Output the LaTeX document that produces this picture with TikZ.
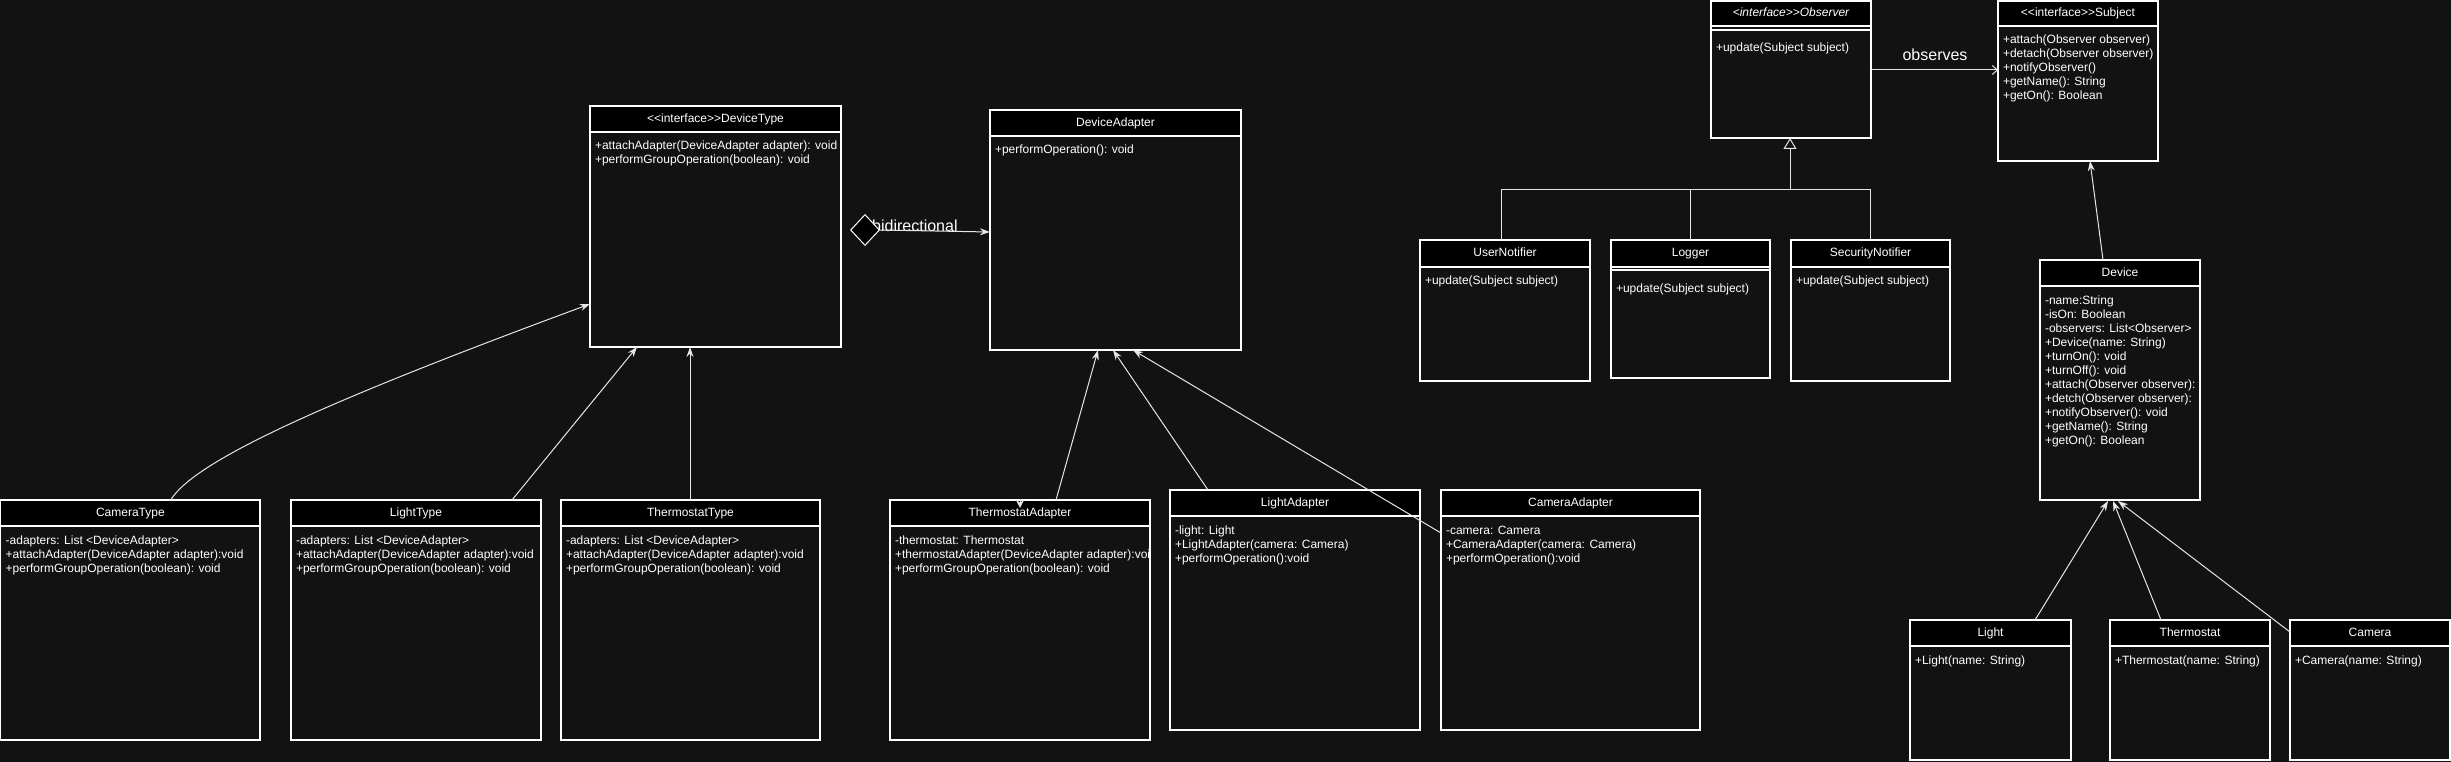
\documentclass[tikz,border=0pt]{standalone}
\usepackage{fontspec}
\setmainfont{Liberation Sans}[Ligatures=TeXOff]
\usetikzlibrary{arrows.meta,shapes.geometric,calc}
\definecolor{bg}{HTML}{121212}
\definecolor{ln}{HTML}{E6E6E6}
\tikzset{
 clsbody/.style={draw=white, fill=bg, line width=1.3pt, anchor=north west, inner sep=0pt, outer sep=0pt},
 clshead/.style={draw=white, fill=black, line width=1.3pt, anchor=north west, inner sep=0pt, outer sep=0pt,
   text=white, font=\fontsize{12}{14}\selectfont, text height=8.6pt, text depth=2.4pt},
 clstext/.style={anchor=base west, inner sep=0pt, outer sep=0pt, text=white, font=\fontsize{12}{14}\selectfont},
 conn/.style={draw=ln, line width=1pt},
 tipA/.style={-{Stealth[length=10pt,width=7pt]}},
 lbl/.style={text=white, font=\fontsize{16}{19}\selectfont, inner sep=0pt, anchor=base}
}
\newcommand\umlcls[7]{%
 \node[clsbody, minimum width=#4pt, minimum height=#5pt] (#1) at (#2,#3) {};
 \node[clshead, minimum width=#4pt, minimum height=#6pt] (#1-h) at (#1.north west) {#7};}
\newcommand\umlbody[3]{%
 \node[clstext] (#1-t) at ($(#1.north west)+(5,#2)$) {\begin{tabular}[t]{@{}l@{}}#3\end{tabular}};}
\begin{document}
\begin{tikzpicture}[x=1pt,y=-1pt]
\fill[bg] (0,0) rectangle (2451,762);
\useasboundingbox (0,0) rectangle (2451,762);

% classes
\umlcls{DT}{590}{106}{251}{241}{26}{<<interface>>DeviceType}
\umlbody{DT}{44}{+attachAdapter(DeviceAdapter adapter): void\\+performGroupOperation(boolean): void}
\umlcls{DA}{990}{110}{251}{240}{26}{DeviceAdapter}
\umlbody{DA}{44}{+performOperation(): void}

\umlcls{OB}{1711}{1}{160}{137}{25}{\itshape <interface>>Observer}
\draw[draw=white, line width=1.3pt] ($(OB.north west)+(0,29)$) -- ($(OB.north east)+(0,29)$);
\umlbody{OB}{51}{+update(Subject subject)}
\umlcls{SB}{1998}{1}{160}{160}{25}{<<interface>>Subject}
\umlbody{SB}{43}{+attach(Observer observer)\\+detach(Observer observer)\\+notifyObserver()\\+getName(): String\\+getOn(): Boolean}

\umlcls{UN}{1420}{240}{170}{141}{27}{UserNotifier}
\umlbody{UN}{44}{+update(Subject subject)}
\umlcls{LG}{1611}{240}{159}{138}{27}{Logger}
\draw[draw=white, line width=1.3pt] ($(LG.north west)+(0,30)$) -- ($(LG.north east)+(0,30)$);
\umlbody{LG}{52}{+update(Subject subject)}
\umlcls{SN}{1791}{240}{159}{141}{27}{SecurityNotifier}
\umlbody{SN}{44}{+update(Subject subject)}

\umlcls{DV}{2040}{260}{160}{240}{26}{Device}
\umlbody{DV}{44}{-name:String\\-isOn: Boolean\\-observers: List<Observer>\\+Device(name: String)\\+turnOn(): void\\+turnOff(): void\\+attach(Observer observer):\\+detch(Observer observer):\\+notifyObserver(): void\\+getName(): String\\+getOn(): Boolean}

\umlcls{LI}{1910}{620}{161}{140}{26}{Light}
\umlbody{LI}{44}{+Light(name: String)}
\umlcls{TH}{2110}{620}{160}{140}{26}{Thermostat}
\umlbody{TH}{44}{+Thermostat(name: String)}
\umlcls{CM}{2290}{620}{160}{140}{26}{Camera}
\umlbody{CM}{44}{+Camera(name: String)}

\umlcls{CT}{0.7}{500}{259.3}{240}{26}{CameraType}
\umlbody{CT}{44}{-adapters: List <DeviceAdapter>\\+attachAdapter(DeviceAdapter adapter):void\\+performGroupOperation(boolean): void}
\umlcls{LT}{291}{500}{250}{240}{26}{LightType}
\umlbody{LT}{44}{-adapters: List <DeviceAdapter>\\+attachAdapter(DeviceAdapter adapter):void\\+performGroupOperation(boolean): void}
\umlcls{TT}{561}{500}{259}{240}{26}{ThermostatType}
\umlbody{TT}{44}{-adapters: List <DeviceAdapter>\\+attachAdapter(DeviceAdapter adapter):void\\+performGroupOperation(boolean): void}

\umlcls{TA}{890}{500}{260}{240}{26}{ThermostatAdapter}
\begin{scope}
\clip (TA.north west) rectangle (TA.south east);
\umlbody{TA}{44}{-thermostat: Thermostat\\+thermostatAdapter(DeviceAdapter adapter):void\\+performGroupOperation(boolean): void}
\end{scope}
\umlcls{LA}{1170}{490}{250}{240}{26}{LightAdapter}
\umlbody{LA}{44}{-light: Light\\+LightAdapter(camera: Camera)\\+performOperation():void}
\umlcls{CA}{1441}{490}{259}{240}{26}{CameraAdapter}
\umlbody{CA}{44}{-camera: Camera\\+CameraAdapter(camera: Camera)\\+performOperation():void}

% connectors: DeviceType
\draw[conn,tipA] ($(CT.north west)+(170,0)$) .. controls (195,460) and (330,400) .. ($(DT.north west)+(0,198)$);
\draw[conn,tipA] ($(LT.north west)+(221,0)$) -- ($(DT.south west)+(47,0)$);
\draw[conn,tipA] ($(TT.north west)+(129,0)$) -- ($(DT.south west)+(100,0)$);

% bidirectional
\node[lbl, anchor=base west] (bil) at (872,231) {bidirectional};
\node[diamond, draw=white, fill=black, line width=1pt, minimum width=29pt, minimum height=31pt, inner sep=0pt] (dm) at (865,230) {};
\draw[conn,tipA] (dm.east) -- ($(DA.north west)+(0,122)$);

% adapters
\draw[conn,tipA] ($(TA.north west)+(166,0)$) -- ($(DA.south west)+(108,0)$);
\draw[conn,tipA] ($(LA.north west)+(38,0)$) -- ($(DA.south west)+(123,0)$);
\draw[conn,tipA] ($(CA.north west)+(0,43)$) -- ($(DA.south west)+(143,0)$);
\draw[conn,-{Stealth[length=8pt,width=8pt]}] ($(TA.north west)+(130,-1)$) -- ($(TA.north west)+(130,8)$);

% observer hierarchy
\coordinate (jn) at ($(OB.south west)+(79,52)$);
\draw[conn] ($(UN.north west)+(81,0)$) |- (SN.north |- jn) -- (SN.north);
\draw[conn] (LG.north) -- (LG.north |- jn);
\draw[conn,-{Triangle[open,length=11pt,width=13pt]}] (jn) -- (OB.south -| jn);

% observes
\draw[conn,-{Straight Barb[length=5pt,width=9pt]}] ($(OB.north east)+(0,69)$) -- ($(SB.north west)+(0,69)$);
\node[lbl] (obl) at (1935,61) {observes};

% device
\draw[conn,tipA] ($(DV.north west)+(63,0)$) -- ($(SB.south west)+(92,0)$);
\draw[conn,tipA] ($(LI.north west)+(125,0)$) -- ($(DV.south west)+(68,1)$);
\draw[conn,tipA] ($(TH.north west)+(51,0)$) -- ($(DV.south west)+(73,1)$);
\draw[conn,tipA] ($(CM.north west)+(0,12)$) -- ($(DV.south west)+(78,1)$);
\end{tikzpicture}
\end{document}
